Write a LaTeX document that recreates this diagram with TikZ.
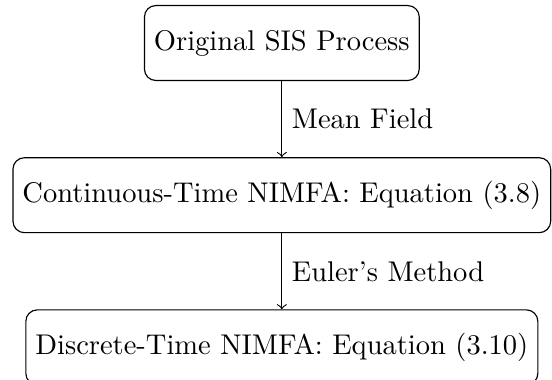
\documentclass[tikz,border=0pt]{standalone}
\usepackage{tikz}
\usetikzlibrary{arrows, positioning}

\begin{document}
\begin{tikzpicture}[node distance=26.7pt,
  stagebox/.style={rectangle, rounded corners, draw=black, minimum height=26.3pt, align=center}]
% fixed frame, bottom box runs past the lower edge
\useasboundingbox (-98.9pt,15.1pt) rectangle (94.8pt,-117.9pt);
\node[stagebox] (orig) at (0,0) {Original SIS Process};
\node[stagebox, below=of orig] (cont) {Continuous-Time NIMFA: Equation (3.8)};
\node[stagebox, below=of cont] (disc) {Discrete-Time NIMFA: Equation (3.10)};
\draw[->] (orig) -- node[right] {Mean Field} (cont);
\draw[->] (cont) -- node[right] {Euler's Method} (disc);
\end{tikzpicture}
\end{document}
